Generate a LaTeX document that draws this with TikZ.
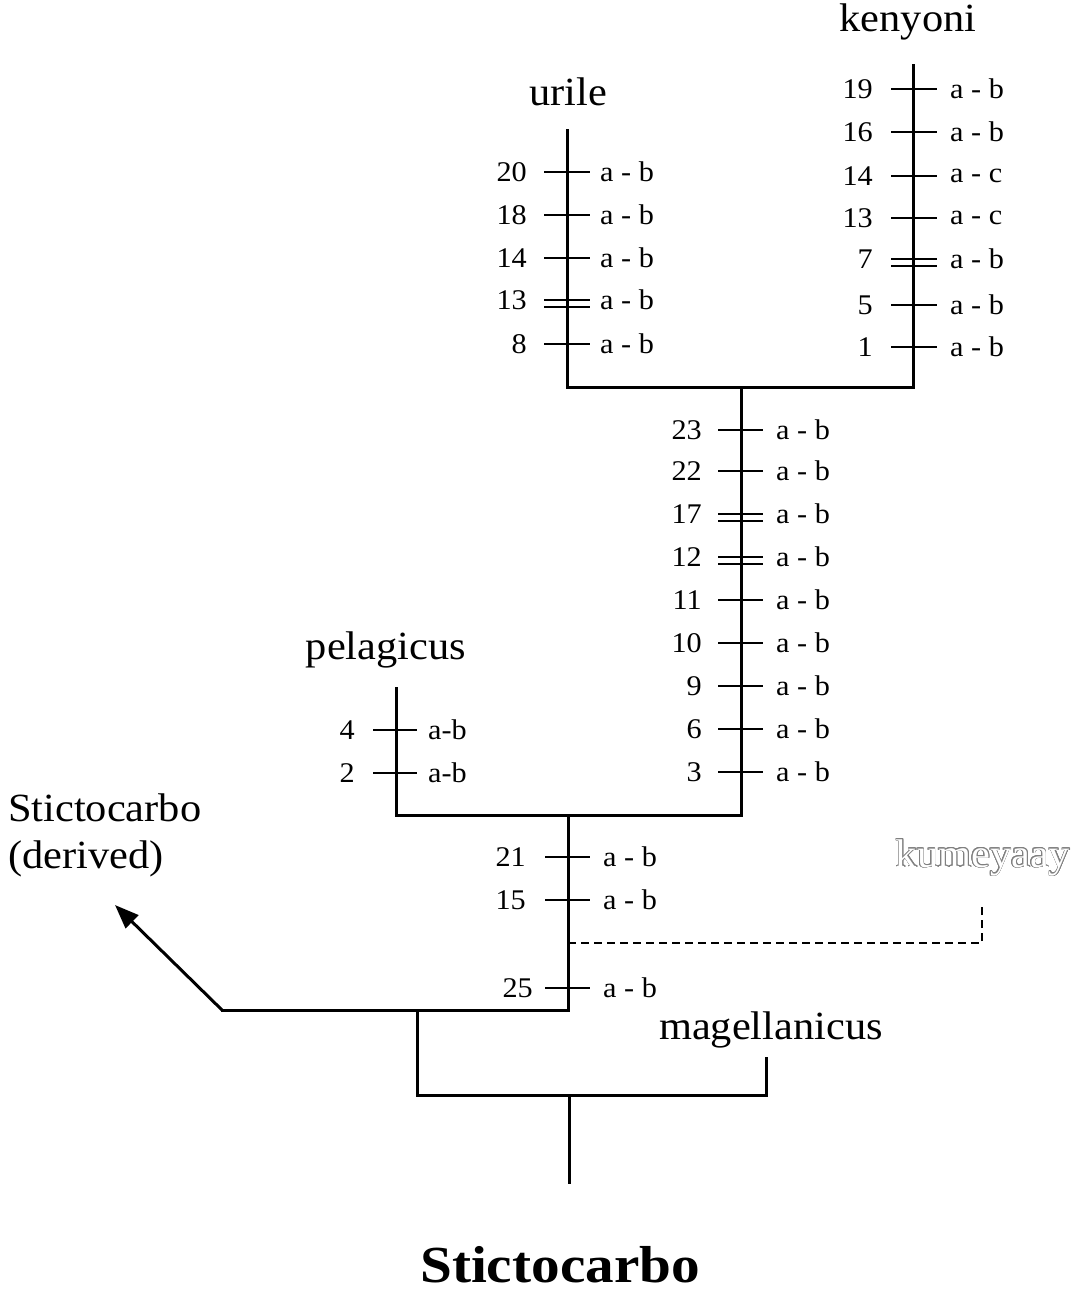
\documentclass[tikz,border=0pt]{standalone}
\usepackage{fontspec}
\setmainfont{Liberation Serif}
\usepackage{contour}
\contourlength{0.8pt}
\usetikzlibrary{arrows.meta}
\newcommand\sx[1]{\scalebox{1.06}[1]{#1}}
\newcommand\chset[6]{%
 \foreach \y/\n/\l/\d in {#6}{%
   \draw[tk] (#2,\y) -- (#3,\y);
   \ifnum\d=1 \draw[tk] (#2,\y+7) -- (#3,\y+7);\fi
   \node[sm,anchor=east] (num-#1-\y) at (#4,\y) {\sx{\n}};
   \node[sm,anchor=west] (lab-#1-\y) at (#5,\y) {\sx{\l}};
 }}
\begin{document}
\begin{tikzpicture}[x=1pt,y=-1pt,
  br/.style={line width=3pt,line cap=rect},
  tk/.style={line width=2.7pt},
  sm/.style={font=\fontsize{28.5}{32}\selectfont,inner sep=0pt},
  big/.style={font=\fontsize{40}{47}\selectfont,inner sep=0pt},
  ttl/.style={font=\fontsize{52}{60}\selectfont\bfseries,inner sep=0pt},
  dsh/.style={line width=2.2pt,dash pattern=on 8pt off 5pt}]
\path[use as bounding box,fill=white] (0,0) rectangle (1084,1296);
% coordinates
\coordinate (uTop) at (567,130); \coordinate (uBot) at (567,387);
\coordinate (kTop) at (913,65);  \coordinate (kBot) at (913,387);
\coordinate (mTop) at (741,387); \coordinate (mBot) at (741,815);
\coordinate (pTop) at (396,688); \coordinate (pBot) at (396,815);
\coordinate (lTop) at (568,815); \coordinate (lBot) at (568,1010);
\coordinate (aStart) at (222,1010); \coordinate (aTip) at (115,905);
\coordinate (nTop) at (417,1010); \coordinate (nBot) at (417,1095);
\coordinate (magTop) at (766,1058); \coordinate (magBot) at (766,1095);
\coordinate (rTop) at (569,1095); \coordinate (rBot) at (569,1182);
\coordinate (dS) at (568,943); \coordinate (dC) at (982,943); \coordinate (dE) at (982,905);
% branches
\draw[br] (uTop) -- (uBot) -- (kBot) -- (kTop);
\draw[br] (mTop) -- (mBot);
\draw[br] (pTop) -- (pBot) -- (mBot);
\draw[br] (lTop) -- (lBot) -- (aStart);
\draw[line width=3pt,-{Triangle[length=24pt,width=18pt]}] (aStart) -- (aTip);
\draw[br] (nTop) -- (nBot) -- (magBot) -- (magTop);
\draw[br] (rTop) -- (rBot);
\draw[dsh] (dS) -- (dC) -- (dE);
% characters
\chset{567}{544}{590}{527}{600}{172/20/a - b/0,215/18/a - b/0,258/14/a - b/0,300/13/a - b/1,344/8/a - b/0}
\chset{913}{891}{937}{873}{950}{89/19/a - b/0,132/16/a - b/0,176/14/a - c/0,218/13/a - c/0,259/7/a - b/1,305/5/a - b/0,347/1/a - b/0}
\chset{741}{718}{763}{702}{776}{430/23/a - b/0,471/22/a - b/0,514/17/a - b/1,557/12/a - b/1,600/11/a - b/0,643/10/a - b/0,686/9/a - b/0,729/6/a - b/0,772/3/a - b/0}
\chset{396}{373}{417}{355}{428}{730/4/a-b/0,773/2/a-b/0}
\chset{568}{545}{590}{526}{603}{857/21/a - b/0,900/15/a - b/0}
\chset{569}{545}{590}{533}{603}{988/25/a - b/0}
% taxon names
\node[big] (urile) at (568,92) {\sx{urile}};
\node[big] (kenyoni) at (908,22) {\sx{kenyoni}};
\node[big] (pelagicus) at (386,650) {\sx{pelagicus}};
\node[big] (magellanicus) at (771,1030) {\sx{magellanicus}};
\node[big,anchor=west] (derived) at (8,836) {\sx{\begin{tabular}{@{}l@{}}Stictocarbo\\(derived)\end{tabular}}};
\node[big] (kumeyaay) at (983,858) {\sx{\contour{black!50}{\color{white}kumeyaay}}};
\node[ttl] (title) at (560,1265) {\scalebox{1.1}[1]{Stictocarbo}};
\end{tikzpicture}
\end{document}
